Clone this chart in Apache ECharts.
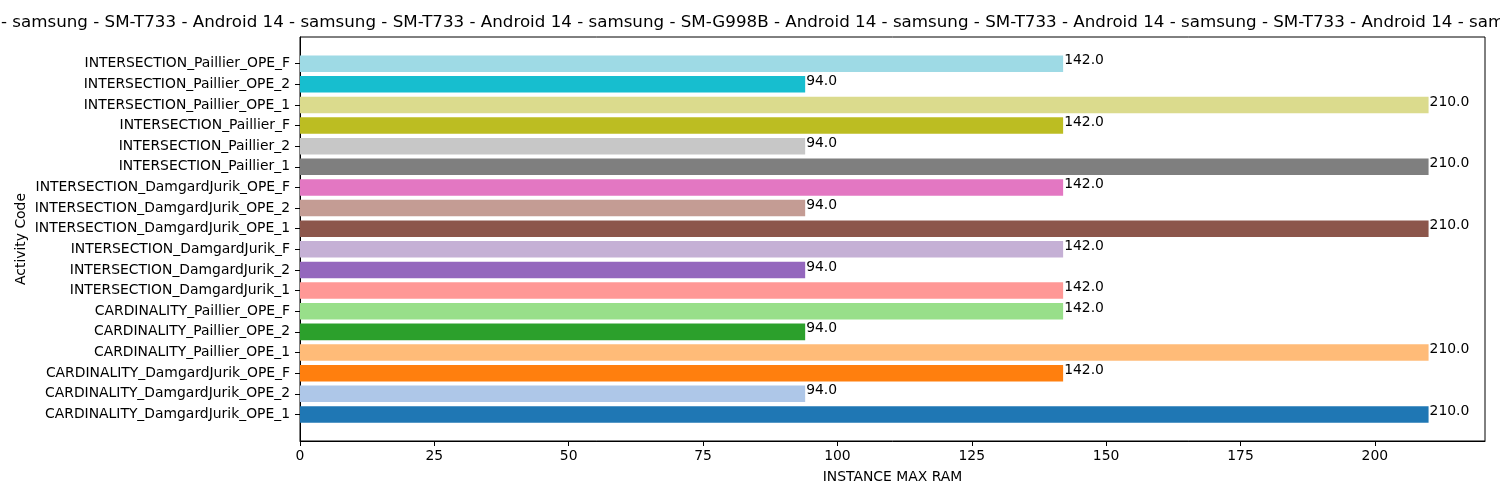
<!DOCTYPE html>
<html>
<head>
<meta charset="utf-8">
<script src="https://cdn.jsdelivr.net/npm/echarts@6/dist/echarts.min.js"></script>
<style>html,body{margin:0;padding:0;background:#fff}#c{width:1500px;height:500px}</style>
</head>
<body>
<div id="c"></div>
<script>
var categories = [
  'CARDINALITY_DamgardJurik_OPE_1','CARDINALITY_DamgardJurik_OPE_2','CARDINALITY_DamgardJurik_OPE_F',
  'CARDINALITY_Paillier_OPE_1','CARDINALITY_Paillier_OPE_2','CARDINALITY_Paillier_OPE_F',
  'INTERSECTION_DamgardJurik_1','INTERSECTION_DamgardJurik_2','INTERSECTION_DamgardJurik_F',
  'INTERSECTION_DamgardJurik_OPE_1','INTERSECTION_DamgardJurik_OPE_2','INTERSECTION_DamgardJurik_OPE_F',
  'INTERSECTION_Paillier_1','INTERSECTION_Paillier_2','INTERSECTION_Paillier_F',
  'INTERSECTION_Paillier_OPE_1','INTERSECTION_Paillier_OPE_2','INTERSECTION_Paillier_OPE_F'
];
var values = [210,94,142,210,94,142,142,94,142,210,94,142,210,94,142,210,94,142];
var colors = ['#1f77b4','#aec7e8','#ff7f0e','#ffbb78','#2ca02c','#98df8a','#ff9896','#9467bd','#c5b0d5',
  '#8c564b','#c49c94','#e377c2','#7f7f7f','#c7c7c7','#bcbd22','#dbdb8d','#17becf','#9edae5'];
var xTicks = [0,25,50,75,100,125,150,175,200];
var titleText = '- samsung - SM-T733 - Android 14 - samsung - SM-T733 - Android 14 - samsung - SM-G998B - Android 14 - samsung - SM-T733 - Android 14 - samsung - SM-T733 - Android 14 - samsung - SM-T733 - Android 14';

var FONT = 'DejaVu Sans';
var chart = echarts.init(document.getElementById('c'), null, {renderer:'canvas'});
var xMax = 220.5;
chart.setOption({
  animation: false,
  backgroundColor: '#fff',
  textStyle: {fontFamily: FONT},
  title: {text: titleText, left: 1, top: 14, padding: 0,
    textStyle: {fontFamily: FONT, fontSize: 16.7, fontWeight: 'normal', color: '#000'}},
  grid: [
    {left: 300, right: 15, top: 53.4, bottom: 75.3, containLabel: false},
    {left: 300, right: 15, top: 37, bottom: 59, show: true, borderColor: '#000', borderWidth: 1, backgroundColor: 'transparent'}
  ],
  xAxis: [
    {gridIndex: 0, type: 'value', min: 0, max: xMax, show: false},
    {gridIndex: 1, type: 'value', min: 0, max: xMax,
      splitLine: {show: false},
      axisLine: {show: true, lineStyle: {color: '#000', width: 1}},
      axisTick: {show: true, length: 5, lineStyle: {color: '#000'}, customValues: xTicks},
      axisLabel: {customValues: xTicks, fontSize: 13.9, color: '#000', margin: 8, fontFamily: FONT},
      name: 'INSTANCE MAX RAM', nameLocation: 'middle', nameGap: 29,
      nameTextStyle: {fontSize: 13.9, color: '#000', fontFamily: FONT}}
  ],
  yAxis: [
    {gridIndex: 0, type: 'category', data: categories, boundaryGap: true,
      axisLine: {show: false},
      axisTick: {show: true, alignWithLabel: true, length: 5, lineStyle: {color: '#000'}},
      axisLabel: {fontSize: 13.9, color: '#000', margin: 10, fontFamily: FONT},
      splitLine: {show: false}},
    {gridIndex: 1, type: 'value', min: 0, max: 1,
      axisLine: {show: true, lineStyle: {color: '#000', width: 1}},
      axisTick: {show: false}, axisLabel: {show: false}, splitLine: {show: false},
      name: 'Activity Code', nameLocation: 'middle', nameGap: 272, nameRotate: 90,
      nameTextStyle: {fontSize: 13.9, color: '#000', fontFamily: FONT}}
  ],
  series: [{
    type: 'bar', xAxisIndex: 0, yAxisIndex: 0, barWidth: '80%',
    data: values.map(function(v, i){ return {value: v, itemStyle: {color: colors[i]}}; }),
    label: {show: true, position: 'right', distance: 1, offset: [0, -3],
      formatter: function(p){ return p.value.toFixed(1); },
      fontSize: 13.9, color: '#000', fontFamily: FONT}
  }]
});
</script>
</body>
</html>
